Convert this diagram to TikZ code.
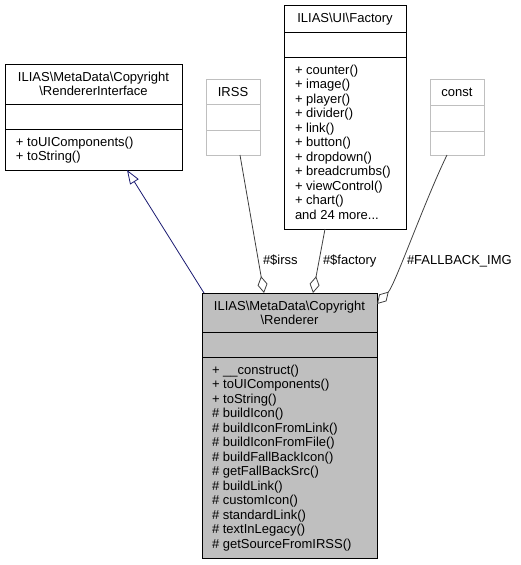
\documentclass[tikz,border=0pt]{standalone}
\usepackage{fontspec}
\setmainfont{Liberation Sans}
\usetikzlibrary{arrows.meta}
\definecolor{navyedge}{HTML}{191970}
\definecolor{greyedge}{HTML}{404040}
\definecolor{lightborder}{HTML}{BFBFBF}
\definecolor{rendfill}{HTML}{BFBFBF}
\tikzset{
  umlbox/.style={draw=black, line width=1pt, inner sep=0pt, outer sep=0pt, anchor=north west},
  ghostbox/.style={draw=lightborder, line width=1pt, inner sep=0pt, outer sep=0pt, anchor=north west},
  txt/.style={inner sep=0pt, outer sep=0pt, font=\fontsize{13}{14.5}\selectfont},
  divider/.style={line width=1pt},
  ghostdiv/.style={draw=lightborder, line width=1pt},
  inherit/.style={draw=navyedge, line width=0.8pt, -{Triangle[open, length=14pt, width=10pt]}},
  aggr/.style={draw=greyedge, line width=0.8pt, {Diamond[open, length=17pt, width=10pt]}-},
}
\begin{document}
\begin{tikzpicture}[x=1pt,y=-1pt]
\useasboundingbox (0,0) rectangle (520,565);

% RendererInterface
\node[umlbox, minimum width=177pt, minimum height=106pt] (ri) at (5,64) {};
\draw[divider] (5,104) -- (182,104);
\draw[divider] (5,129) -- (182,129);
\node[txt, anchor=base] (ri-t1) at (93.5,81) {ILIAS\textbackslash MetaData\textbackslash Copyright};
\node[txt, anchor=base] (ri-t2) at (93.5,95) {\textbackslash RendererInterface};
\node[txt, anchor=base west] (ri-m1) at (16,146) {+ toUIComponents()};
\node[txt, anchor=base west] (ri-m2) at (16,160.5) {+ toString()};

% IRSS
\node[ghostbox, minimum width=54pt, minimum height=76pt] (irss) at (206,79) {};
\draw[ghostdiv] (206,104) -- (260,104);
\draw[ghostdiv] (206,130) -- (260,130);
\node[txt, anchor=base] (irss-t) at (233,96) {IRSS};

% Factory
\node[umlbox, minimum width=122pt, minimum height=224pt] (fac) at (284,5) {};
\draw[divider] (284,32) -- (406,32);
\draw[divider] (284,57) -- (406,57);
\node[txt, anchor=base] (fac-t) at (345,22.5) {ILIAS\textbackslash UI\textbackslash Factory};
\foreach \i/\m in {0/+ counter(),1/+ image(),2/+ player(),3/+ divider(),4/+ link(),5/+ button(),6/+ dropdown(),7/+ breadcrumbs(),8/+ viewControl(),9/+ chart()}{
  \node[txt, anchor=base west] (fac-m\i) at (295,74+14.5*\i) {\m};
}
\node[txt, anchor=base west] (fac-m10) at (295,219) {and 24 more.{}.{}.};

% const
\node[ghostbox, minimum width=54pt, minimum height=76pt] (const) at (430,79) {};
\draw[ghostdiv] (430,105) -- (484,105);
\draw[ghostdiv] (430,131) -- (484,131);
\node[txt, anchor=base] (const-t) at (457,96) {const};

% Renderer
\node[umlbox, fill=rendfill, minimum width=175pt, minimum height=265pt] (rend) at (202,293) {};
\draw[divider] (202,332) -- (377,332);
\draw[divider] (202,357) -- (377,357);
\node[txt, anchor=base] (rend-t1) at (289.5,310) {ILIAS\textbackslash MetaData\textbackslash Copyright};
\node[txt, anchor=base] (rend-t2) at (289.5,324) {\textbackslash Renderer};
\foreach \i/\m in {0/+ \_\_construct(),1/+ toUIComponents(),2/+ toString(),3/\# buildIcon(),4/\# buildIconFromLink(),5/\# buildIconFromFile(),6/\# buildFallBackIcon(),7/\# getFallBackSrc(),8/\# buildLink(),9/\# customIcon(),10/\# standardLink(),11/\# textInLegacy(),12/\# getSourceFromIRSS()}{
  \node[txt, anchor=base west] (rend-m\i) at (212,374+14.5*\i) {\m};
}

% connector end points
\coordinate (inhS) at (204,293);
\coordinate (inhE) at (127,170);
\coordinate (irssS) at (264,293);
\coordinate (irssE) at (240,155);
\coordinate (facS) at (313,293);
\coordinate (facE) at (325,229);
\coordinate (constS) at (377,304);
\coordinate (constE) at (447,155);

\draw[inherit] (inhS) -- (inhE);
\draw[aggr] (irssS) -- (irssE);
\draw[aggr] (facS) -- (facE);
\draw[aggr] (constS) .. controls (395,285) and (425,200) .. (constE);

% labels
\node[txt, anchor=base west] (l-irss) at (263,264) {\#\$irss};
\node[txt, anchor=base west] (l-fac) at (323,264) {\#\$factory};
\node[txt, anchor=base west] (l-const) at (407,264) {\#FALLBACK\_IMG};
\end{tikzpicture}
\end{document}
